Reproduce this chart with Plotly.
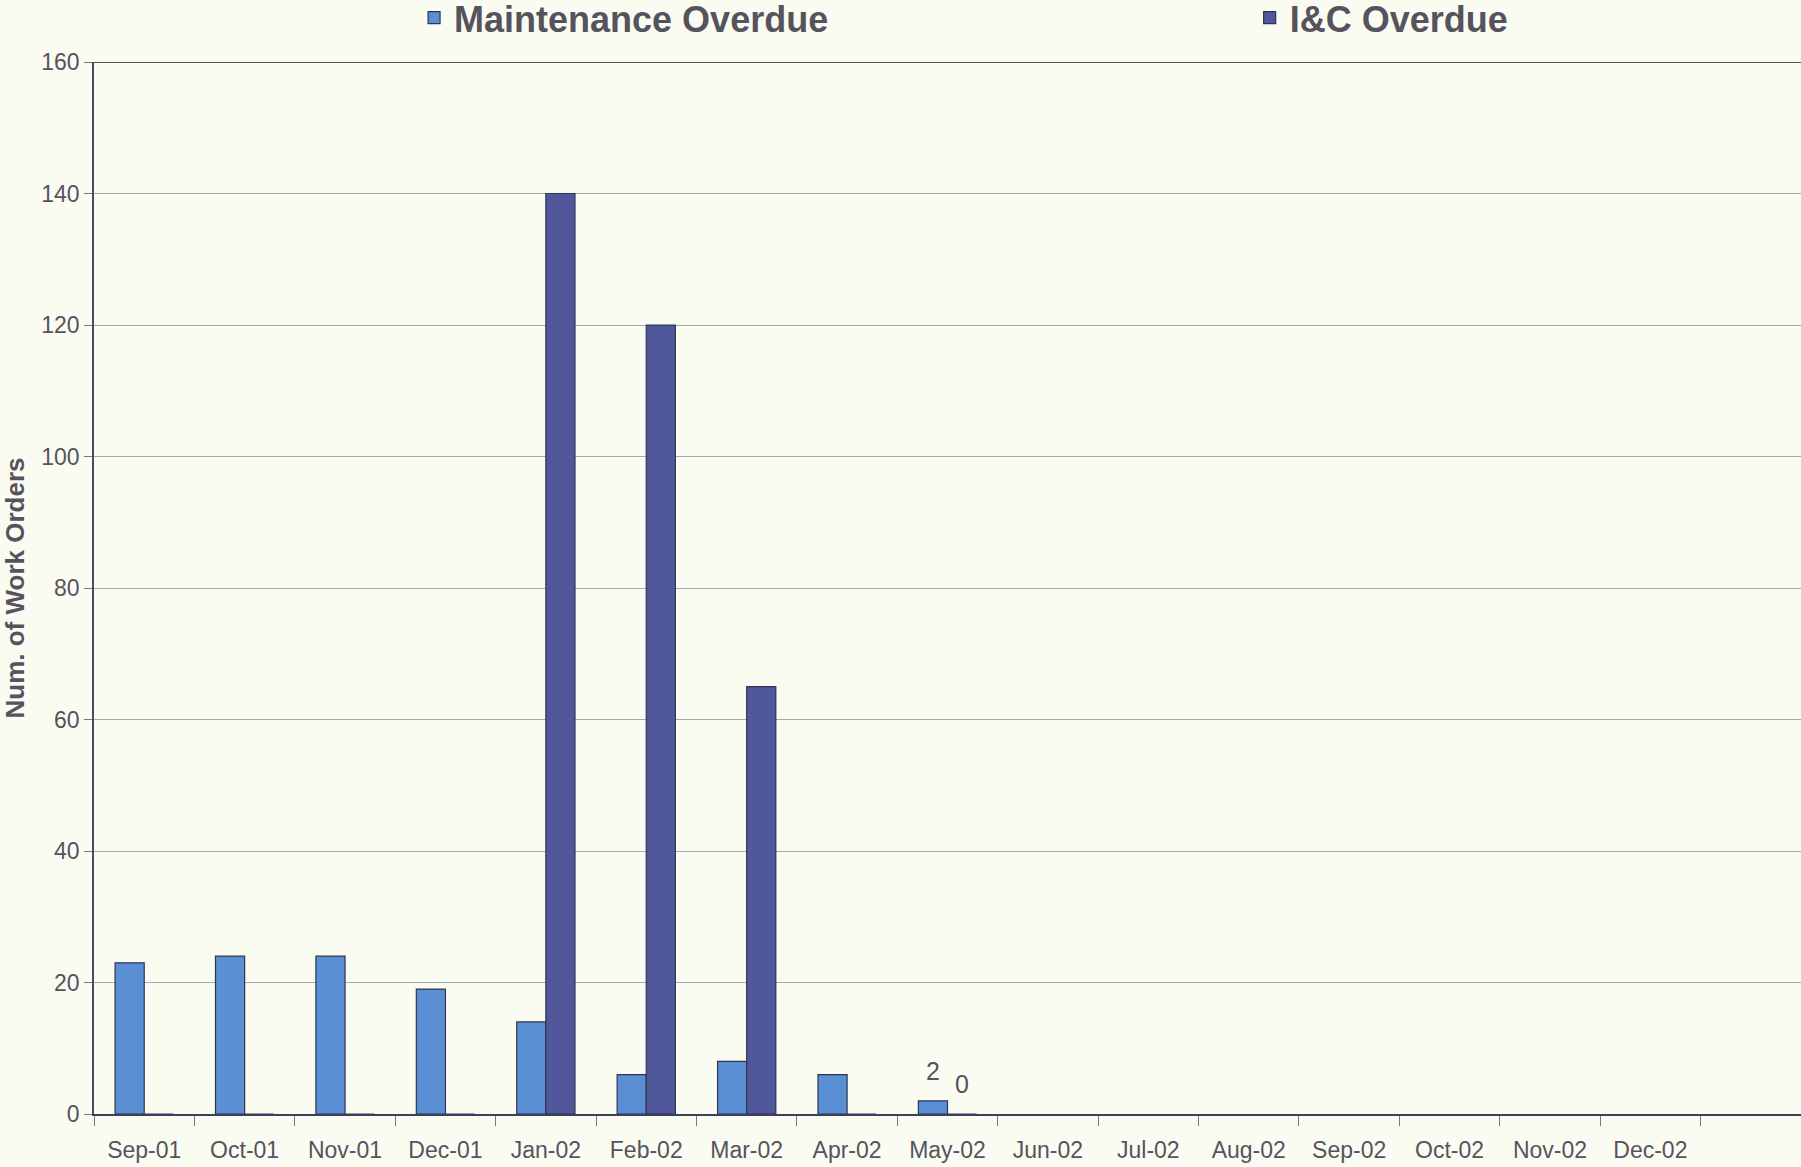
import plotly.graph_objects as go

months = ["Sep-01", "Oct-01", "Nov-01", "Dec-01", "Jan-02", "Feb-02", "Mar-02", "Apr-02",
          "May-02", "Jun-02", "Jul-02", "Aug-02", "Sep-02", "Oct-02", "Nov-02", "Dec-02"]
maintenance = [23, 24, 24, 19, 14, 6, 8, 6, 2, None, None, None, None, None, None, None]
ic_overdue = [0, 0, 0, 0, 140, 120, 65, 0, 0, None, None, None, None, None, None, None]
maint_labels = ["", "", "", "", "", "", "", "", "2", "", "", "", "", "", "", ""]
ic_labels = ["", "", "", "", "", "", "", "", "0", "", "", "", "", "", "", ""]

text_col = "#55535e"
bg = "#fbfcf1"
fig = go.Figure()
fig.add_trace(go.Bar(x=months, y=maintenance, name="Maintenance Overdue", legend="legend",
                     offsetgroup="m",
                     marker=dict(color="#5b8fd3", line=dict(color="#2e3550", width=1.2))))
fig.add_trace(go.Bar(x=months, y=ic_overdue, name="I&C Overdue", legend="legend2",
                     offsetgroup="ic",
                     marker=dict(color="#50579b", line=dict(color="#2e3550", width=1.2))))

# value labels (only where the source chart shows them)
bar_half = 14.5
for labels, vals, shift in [(maint_labels, maintenance, -bar_half), (ic_labels, ic_overdue, bar_half)]:
    for m, lab, v in zip(months, labels, vals):
        if lab:
            fig.add_annotation(x=m, y=v, text=lab, showarrow=False, xshift=shift,
                               yanchor="bottom", yshift=14,
                               font=dict(size=25, color=text_col))

leg_font = dict(size=36, color=text_col, family="Liberation Sans, Arial, sans-serif", weight="bold")
fig.update_layout(
    width=1801, height=1167,
    margin=dict(l=94, r=0, t=62, b=53, autoexpand=False),
    paper_bgcolor=bg, plot_bgcolor=bg,
    barmode="group", bargap=0.42, bargroupgap=0,
    font=dict(family="Liberation Sans, Arial, sans-serif", color=text_col),
    showlegend=True,
    legend=dict(x=0.1875, y=1.042, xanchor="left", yanchor="middle",
                font=leg_font, bgcolor="rgba(0,0,0,0)"),
    legend2=dict(x=0.677, y=1.042, xanchor="left", yanchor="middle",
                 font=leg_font, bgcolor="rgba(0,0,0,0)"),
    xaxis=dict(range=[-0.5, 16.5], tickson="boundaries", ticks="outside", ticklen=10,
               tickcolor="#777", showline=True, linecolor="#3a3f5a", linewidth=2,
               ticklabelstandoff=14,
               tickfont=dict(size=23, color=text_col), showgrid=False),
    yaxis=dict(range=[0, 160], dtick=20, ticks="outside", ticklen=8, tickcolor="#777",
               showline=True, linecolor="#4a4a5a", linewidth=1.5,
               gridcolor="#a9a9ae", gridwidth=1, zeroline=False,
               tickfont=dict(size=23, color=text_col),
               title=dict(text="<b>Num. of Work Orders</b>", font=dict(size=26, color=text_col),
                          standoff=12)),
)
fig.add_shape(type="line", xref="paper", yref="y", x0=0, x1=1, y0=160, y1=160,
              line=dict(color="#555560", width=2))

fig.write_html("out.html", config={"displayModeBar": False},
               post_script="document.body.style.margin='0';document.body.style.background='%s';" % bg)
